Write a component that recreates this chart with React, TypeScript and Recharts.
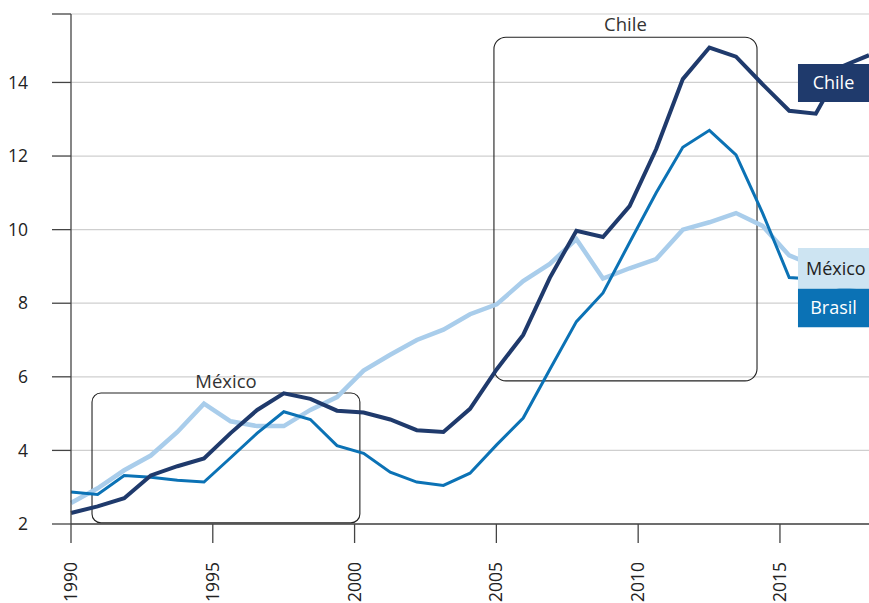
import {
  LineChart,
  Line,
  XAxis,
  YAxis,
  CartesianGrid,
  ReferenceArea,
} from 'recharts';

const years = [
  1990, 1991, 1992, 1993, 1994, 1995, 1996, 1997, 1998, 1999, 2000, 2001, 2002,
  2003, 2004, 2005, 2006, 2007, 2008, 2009, 2010, 2011, 2012, 2013, 2014, 2015,
  2016, 2017, 2018, 2019, 2020,
];

const chile = [
  2.3, 2.48, 2.7, 3.32, 3.57, 3.78, 4.47, 5.1, 5.55, 5.4, 5.08, 5.03, 4.84,
  4.55, 4.5, 5.13, 6.2, 7.14, 8.69, 9.97, 9.8, 10.64, 12.19, 14.09, 14.95, 14.7,
  13.95, 13.23, 13.15, 14.44, 14.74,
];

const brasil = [
  2.87, 2.8, 3.32, 3.27, 3.19, 3.14, 3.8, 4.47, 5.05, 4.84, 4.13, 3.92, 3.41,
  3.14, 3.05, 3.38, 4.15, 4.88, 6.2, 7.5, 8.28, 9.65, 11.0, 12.24, 12.7, 12.03,
  10.45, 8.7, 8.65, 8.4, 8.3,
];

const mexico = [
  2.57, 2.97, 3.46, 3.86, 4.5, 5.27, 4.79, 4.66, 4.66, 5.1, 5.45, 6.17, 6.6,
  7.0, 7.28, 7.7, 7.97, 8.6, 9.07, 9.74, 8.67, 8.95, 9.2, 10.0, 10.2, 10.45,
  10.1, 9.3, 9.0, 8.9, 8.85,
];

const xTickLabels = [1990, 1995, 2000, 2005, 2010, 2015];
const yTicks = [2, 4, 6, 8, 10, 12, 14, 15.86];

const data = years.map((year, i) => ({
  year,
  chile: chile[i],
  brasil: brasil[i],
  mexico: mexico[i],
}));

const FONT = '"Open Sans", "Noto Sans", sans-serif';
const AXIS = '#444';

function RotatedTick({ x, y, payload }: any) {
  return (
    <g transform={`translate(${x},${y})`}>
      <text
        x={-17}
        y={0}
        dy="0.35em"
        transform="rotate(-90)"
        textAnchor="end"
        fill="#222"
        fontSize={17.5}
        fontFamily={FONT}
      >
        {payload.value}
      </text>
    </g>
  );
}

// label right edge sits ~43px left of the axis line
function LeftTick({ y, payload }: any) {
  if (payload.value > 15) return null;
  return (
    <text
      x={28}
      y={y}
      dy="0.35em"
      textAnchor="end"
      fill="#222"
      fontSize={17.5}
      fontFamily={FONT}
    >
      {payload.value}
    </text>
  );
}

export default function App() {
  return (
    <div style={{ position: 'absolute', left: 0, top: 0, background: '#fff' }}>
      <LineChart
        width={869}
        height={603}
        data={data}
        margin={{ top: 14, right: 0, bottom: 0, left: 0 }}
      >
        <CartesianGrid vertical={false} stroke="#cfcfcf" strokeWidth={1.2} />
        <XAxis
          xAxisId="data"
          dataKey="year"
          type="number"
          domain={[1990, 2020]}
          height={0}
          hide
        />
        <XAxis
          xAxisId="lab"
          dataKey="year"
          type="number"
          domain={[1990, 2018.14]}
          allowDataOverflow
          ticks={xTickLabels}
          interval={0}
          height={79}
          tickSize={19}
          stroke={AXIS}
          strokeWidth={1.3}
          tick={<RotatedTick />}
        />
        <YAxis
          type="number"
          domain={[2, 15.86]}
          ticks={yTicks}
          interval={0}
          width={71}
          tickSize={19}
          stroke={AXIS}
          strokeWidth={1.3}
          tick={<LeftTick />}
        />

        <ReferenceArea
          xAxisId="data"
          x1={1990.79}
          x2={2000.86}
          y1={2.03}
          y2={5.56}
          fill="none"
          stroke="#222"
          strokeWidth={1.1}
          radius={9}
          label={{
            value: 'México',
            position: 'top',
            offset: 5,
            fill: '#333',
            fontSize: 18.5,
            fontFamily: FONT,
          }}
        />
        <ReferenceArea
          xAxisId="data"
          x1={2005.9}
          x2={2015.79}
          y1={5.89}
          y2={15.23}
          fill="none"
          stroke="#222"
          strokeWidth={1.1}
          radius={12}
          label={{
            value: 'Chile',
            position: 'top',
            offset: 6,
            fill: '#333',
            fontSize: 18.5,
            fontFamily: FONT,
          }}
        />

        <Line
          xAxisId="data"
          dataKey="mexico"
          stroke="#a9cdeb"
          strokeWidth={4.5}
          dot={false}
          isAnimationActive={false}
        />
        <Line
          xAxisId="data"
          dataKey="brasil"
          stroke="#0b72b5"
          strokeWidth={3}
          dot={false}
          isAnimationActive={false}
        />
        <Line
          xAxisId="data"
          dataKey="chile"
          stroke="#1f3a6c"
          strokeWidth={4}
          dot={false}
          isAnimationActive={false}
        />

        <ReferenceArea
          xAxisId="data"
          x1={2017.33}
          x2={2020}
          y1={13.47}
          y2={14.5}
          fill="#1f3a6c"
          fillOpacity={1}
          zIndex={1000}
          label={{
            value: 'Chile',
            position: 'center',
            fill: '#fff',
            fontSize: 18,
            fontFamily: FONT,
          }}
        />
        <ReferenceArea
          xAxisId="data"
          x1={2017.33}
          x2={2020}
          y1={8.39}
          y2={9.5}
          fill="#cde4f2"
          fillOpacity={1}
          zIndex={1000}
          label={{
            value: 'México',
            position: 'insideLeft',
            offset: 8,
            fill: '#222',
            fontSize: 18,
            fontFamily: FONT,
          }}
        />
        <ReferenceArea
          xAxisId="data"
          x1={2017.33}
          x2={2020}
          y1={7.35}
          y2={8.39}
          fill="#0b72b5"
          fillOpacity={1}
          zIndex={1000}
          label={{
            value: 'Brasil',
            position: 'center',
            fill: '#fff',
            fontSize: 18,
            fontFamily: FONT,
          }}
        />
      </LineChart>
    </div>
  );
}
